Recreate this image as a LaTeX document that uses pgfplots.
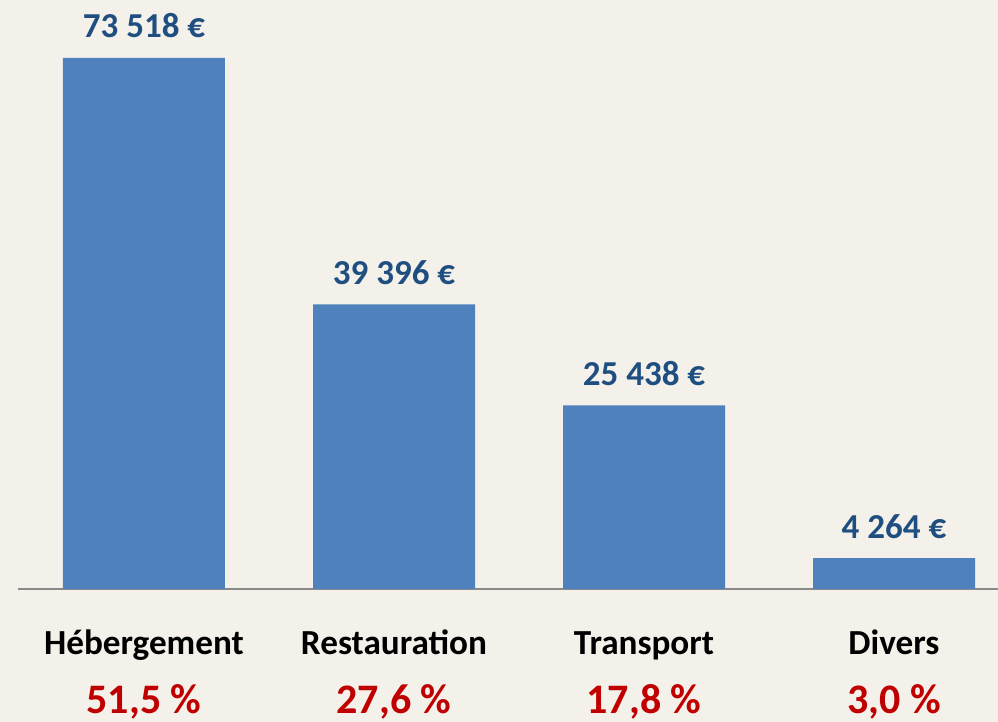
\documentclass[border=0pt]{standalone}
\usepackage{fontspec}
\setmainfont{Carlito}
\usepackage{pgfplots}
\pgfplotsset{compat=1.18}
\definecolor{bg}{HTML}{F4F1EA}
\definecolor{barblue}{HTML}{4F81BD}
\definecolor{valblue}{HTML}{1F4E80}
\definecolor{pctred}{HTML}{C00000}
\definecolor{axgray}{HTML}{898989}
\begin{document}
\begin{tikzpicture}
\fill[bg] (0,0) rectangle (499pt,361pt);
\begin{axis}[
  at={(9pt,66.5pt)}, anchor=south west,
  scale only axis, width=490pt, height=294.5pt,
  xmin=-0.504, xmax=3.416, ymin=0, ymax=81545,
  axis x line=bottom, axis y line=none,
  x axis line style={draw=axgray, line width=1pt, -},
  xtick=\empty, ytick=\empty,
  ybar, bar width=81pt, clip=false,
  nodes near coords, point meta=explicit symbolic,
  every node near coord/.append style={anchor=base, yshift=10pt,
    font=\fontsize{17.5}{20}\selectfont\bfseries, text=valblue, inner sep=0pt},
]
\addplot[fill=barblue, draw=none] coordinates {
  (0,73518) [73~518~€]
  (1,39396) [39~396~€]
  (2,25438) [25~438~€]
  (3,4264) [4~264~€]
};
\begin{scope}[every node/.style={anchor=base, inner sep=0pt, font=\fontsize{17.6}{20}\selectfont\bfseries}]
\node at (axis cs:0,-9138) {Hébergement};
\node at (axis cs:1,-9138) {Restauration};
\node at (axis cs:2,-9138) {Transport};
\node at (axis cs:3,-9138) {Divers};
\end{scope}
\begin{scope}[every node/.style={anchor=base, inner sep=0pt, text=pctred, font=\fontsize{21}{24}\selectfont\bfseries}]
\node at (axis cs:0,-17300) {51,5~\%};
\node at (axis cs:1,-17300) {27,6~\%};
\node at (axis cs:2,-17300) {17,8~\%};
\node at (axis cs:3,-17300) {3,0~\%};
\end{scope}
\end{axis}
\pgfresetboundingbox
\path (0,0) rectangle (499pt,361pt);
\end{tikzpicture}
\end{document}
